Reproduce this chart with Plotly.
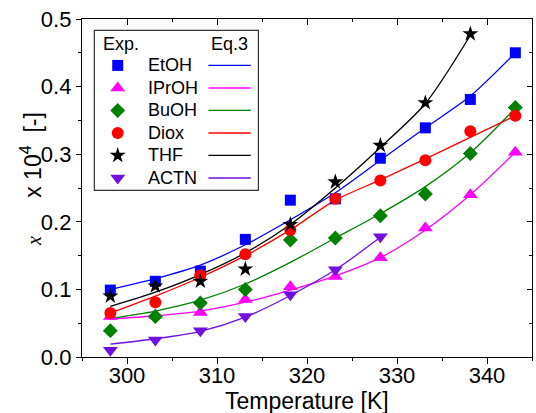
import plotly.graph_objects as go

# ---------------- data ----------------
T = [298.15, 303.15, 308.15, 313.15, 318.15, 323.15, 328.15, 333.15, 338.15, 343.15]

names = ["EtOH", "IPrOH", "BuOH", "Diox", "THF", "ACTN"]

exp_EtOH = [0.099, 0.112, 0.127, 0.174, 0.232, 0.234, 0.294, 0.339, 0.381, 0.450]
exp_IPrOH = [0.060, 0.062, 0.066, 0.085, 0.104, 0.119, 0.147, 0.191, 0.240, 0.303]
exp_BuOH = [0.039, 0.060, 0.080, 0.100, 0.173, 0.176, 0.209, 0.241, 0.301, 0.369]
exp_Diox = [0.065, 0.081, 0.121, 0.152, 0.188, 0.234, 0.261, 0.291, 0.334, 0.357]
exp_THF = [0.090, 0.105, 0.112, 0.130, 0.196, 0.259, 0.313, 0.376, 0.478]
exp_ACTN = [0.010, 0.025, 0.039, 0.060, 0.092, 0.129, 0.178]

fit_EtOH = [0.100, 0.116, 0.136, 0.166, 0.203, 0.243, 0.291, 0.339, 0.386, 0.450]
fit_IPrOH = [0.056, 0.061, 0.068, 0.081, 0.099, 0.120, 0.147, 0.188, 0.240, 0.303]
fit_BuOH = [0.057, 0.068, 0.084, 0.108, 0.140, 0.176, 0.212, 0.252, 0.302, 0.368]
fit_Diox = [0.065, 0.090, 0.118, 0.150, 0.188, 0.232, 0.262, 0.293, 0.325, 0.357]
fit_THF = [0.075, 0.096, 0.122, 0.154, 0.196, 0.250, 0.310, 0.375, 0.476]
fit_ACTN = [0.019, 0.027, 0.038, 0.059, 0.091, 0.129, 0.177]

exp_data = [exp_EtOH, exp_IPrOH, exp_BuOH, exp_Diox, exp_THF, exp_ACTN]
fit_data = [fit_EtOH, fit_IPrOH, fit_BuOH, fit_Diox, fit_THF, fit_ACTN]

x_ticks = [300, 310, 320, 330, 340]
y_ticks = [0.0, 0.1, 0.2, 0.3, 0.4, 0.5]

x_title = "Temperature [K]"
y_title = ("<span style=\"font-family:Liberation Serif, Times New Roman, serif;font-size:20px\"><i>x</i></span>"
           "&nbsp;&nbsp;&nbsp;&nbsp;&nbsp;&nbsp;x 10<sup>4</sup>&nbsp;&nbsp;[-]")
leg_head_left = "Exp."
leg_head_right = "Eq.3"

# ---------------- styles ----------------
colors = ["#0000FF", "#FF00FF", "#008000", "#FF0000", "#000000", "#7010E0"]
symbols = ["square", "triangle-up", "diamond", "circle", "star", "triangle-down"]
msizes = [11, 13, 11.5, 12, 12, 13]

SANS = "Liberation Sans, Arial, sans-serif"

fig = go.Figure()

# fit curves
for name, c, yv in zip(names, colors, fit_data):
    fig.add_trace(go.Scatter(
        x=T[:len(yv)], y=yv, mode="lines",
        line=dict(color=c, width=1.3, shape="spline", smoothing=0.8),
        showlegend=False, hoverinfo="skip"))

# experimental points
for name, c, s, ms, yv in zip(names, colors, symbols, msizes, exp_data):
    fig.add_trace(go.Scatter(
        x=T[:len(yv)], y=yv, mode="markers", name=name,
        marker=dict(color=c, symbol=s, size=ms, line=dict(width=0)),
        showlegend=False))

# dummy trace for mirrored (inside) tick axes
fig.add_trace(go.Scatter(x=[None], y=[None], xaxis="x2", yaxis="y2",
                         showlegend=False, hoverinfo="skip"))

# ---------------- custom legend ----------------
leg_mx = 0.0794
leg_tx = 0.1430
leg_l0, leg_l1 = 0.2809, 0.3751
leg_rows = [0.8627, 0.7959, 0.7296, 0.6627, 0.5964, 0.5296]
leg_box = dict(x0=0.0274, x1=0.3920, y0=0.4929, y1=0.9663)
leg_head_y = 0.927

for name, c, s, ms, ry in zip(names, colors, symbols, msizes, leg_rows):
    fig.add_trace(go.Scatter(
        x=[leg_mx], y=[ry], mode="markers", xaxis="x3", yaxis="y3",
        marker=dict(color=c, symbol=s, size=ms, line=dict(width=0)),
        showlegend=False, hoverinfo="skip"))
    fig.add_shape(type="line", xref="x domain", yref="y domain",
                  x0=leg_l0, x1=leg_l1, y0=ry, y1=ry,
                  line=dict(color=c, width=1.3))
    fig.add_annotation(text=name, xref="x domain", yref="y domain",
                       x=leg_tx, y=ry, xanchor="left", yanchor="middle",
                       showarrow=False, font=dict(family=SANS, size=18, color="black"))

fig.add_shape(type="rect", xref="x domain", yref="y domain", **leg_box,
              line=dict(color="#333333", width=1.2), fillcolor="rgba(0,0,0,0)")
fig.add_annotation(text=leg_head_left, xref="x domain", yref="y domain",
                   x=0.042, y=leg_head_y, xanchor="left", yanchor="middle",
                   showarrow=False, font=dict(family=SANS, size=18, color="black"))
fig.add_annotation(text=leg_head_right, xref="x domain", yref="y domain",
                   x=0.282, y=leg_head_y, xanchor="left", yanchor="middle",
                   showarrow=False, font=dict(family=SANS, size=18, color="black"))

# axis titles as annotations (exact placement)
fig.add_annotation(text=x_title, xref="paper", yref="paper", x=0.5, y=-0.130,
                   xanchor="center", yanchor="middle", showarrow=False,
                   font=dict(family=SANS, size=23, color="black"))
fig.add_annotation(text=y_title, xref="paper", yref="paper", x=-0.113, y=0.527,
                   xanchor="center", yanchor="middle", textangle=-90, showarrow=False,
                   font=dict(family=SANS, size=23, color="black"))

# ---------------- layout ----------------
axis_common = dict(showgrid=False, zeroline=False, linecolor="black", linewidth=1.3,
                   automargin=False)

fig.update_layout(
    width=536, height=413,
    margin=dict(l=82, r=4, t=19, b=56),
    paper_bgcolor="white", plot_bgcolor="white",
    font=dict(family=SANS, size=22, color="black"),
    xaxis=dict(
        **axis_common, range=[295, 345], tickvals=x_ticks,
        ticks="outside", ticklen=6, tickwidth=1.3, tickcolor="black",
        minor=dict(ticks="outside", ticklen=3, tickwidth=1.3, dtick=5, tick0=295, tickcolor="black"),
        mirror=True, ticklabelstandoff=-8,
        tickfont=dict(family=SANS, size=22),
    ),
    yaxis=dict(
        **axis_common, range=[0, 0.5], tickvals=y_ticks, tickformat=".1f",
        ticks="outside", ticklen=5, tickwidth=1.3, tickcolor="black",
        minor=dict(ticks="outside", ticklen=3, tickwidth=1.3, dtick=0.05, tick0=0, tickcolor="black"),
        mirror=True,
        tickfont=dict(family=SANS, size=22),
    ),
    xaxis2=dict(overlaying="x", side="top", range=[295, 345], tickvals=x_ticks,
                showticklabels=False, ticks="inside", ticklen=6, tickwidth=1.3, tickcolor="black",
                minor=dict(ticks="inside", ticklen=3, tickwidth=1.3, dtick=5, tick0=295, tickcolor="black"),
                showgrid=False, zeroline=False, showline=False, automargin=False),
    yaxis2=dict(overlaying="y", side="right", range=[0, 0.5], tickvals=y_ticks,
                showticklabels=False, ticks="inside", ticklen=5, tickwidth=1.3, tickcolor="black",
                minor=dict(ticks="inside", ticklen=3, tickwidth=1.3, dtick=0.05, tick0=0, tickcolor="black"),
                showgrid=False, zeroline=False, showline=False, automargin=False),
    xaxis3=dict(overlaying="x", range=[0, 1], visible=False),
    yaxis3=dict(overlaying="y", range=[0, 1], visible=False),
)

fig.write_html("out.html",
               config={"displayModeBar": False},
               post_script="document.body.style.margin='0';document.body.style.overflow='hidden';")
